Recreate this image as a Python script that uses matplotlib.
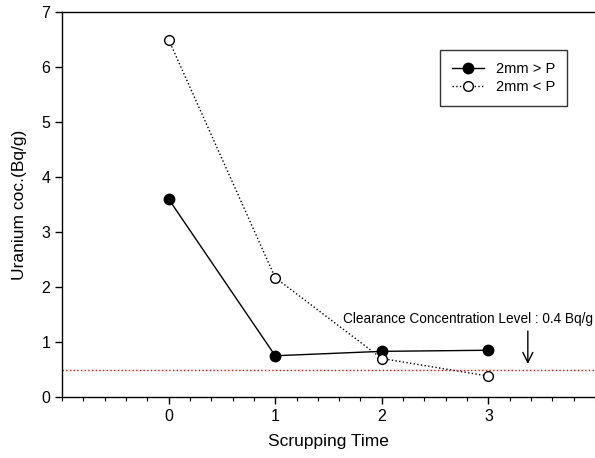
import matplotlib

matplotlib.use("Agg")
import matplotlib.pyplot as plt
from matplotlib.ticker import MultipleLocator

plt.rcParams["font.family"] = ["Liberation Sans", "DejaVu Sans"]

scrub_time = [0, 1, 2, 3]
coarse = [3.6, 0.75, 0.83, 0.85]   # 2mm > P
fine = [6.5, 2.17, 0.70, 0.38]     # 2mm < P
clearance_line = 0.5
clearance_label = "Clearance Concentration Level : 0.4 Bq/g"

fig = plt.figure(figsize=(5.95, 4.58), dpi=100)
ax = fig.add_axes([62 / 595, 1 - 397 / 458, 1 - 62 / 595, (397 - 12) / 458])

ax.plot(scrub_time, coarse, "-o", color="black", lw=1, ms=7.5,
        mfc="black", mec="black", label="2mm > P")
ax.plot(scrub_time, fine, ":o", color="black", lw=1, ms=7,
        mfc="white", mec="black", label="2mm < P")
ax.axhline(clearance_line, color="red", ls=":", lw=1)

ax.annotate("", xy=(3.37, 0.55), xytext=(3.37, 1.25),
            arrowprops=dict(arrowstyle="->", color="black", lw=1,
                            mutation_scale=18))
ax.text(2.81, 1.42, clearance_label, ha="center", va="center", fontsize=9.8)

ax.set_xlim(-1, 4)
ax.set_ylim(0, 7)
ax.set_xticks(scrub_time)
ax.xaxis.set_minor_locator(MultipleLocator(0.2))
ax.set_yticks(range(0, 8))
ax.tick_params(direction="out", labelsize=11.5, length=5, width=1)
ax.tick_params(which="minor", direction="out", length=3, width=0.8)
ax.spines["right"].set_visible(False)
for s in ("left", "bottom", "top"):
    ax.spines[s].set_linewidth(1)

ax.set_xlabel("Scrupping Time", fontsize=12.5, labelpad=7)
ax.set_ylabel("Uranium coc.(Bq/g)", fontsize=12.5, labelpad=10.5)

leg = ax.legend(loc="upper left", bbox_to_anchor=(0.696, 0.92), fontsize=10.5,
                frameon=True, fancybox=False, edgecolor="black",
                handlelength=2.2, borderpad=0.8, labelspacing=0.3)
leg.get_frame().set_linewidth(1)

fig.savefig("out.png", dpi=100)
